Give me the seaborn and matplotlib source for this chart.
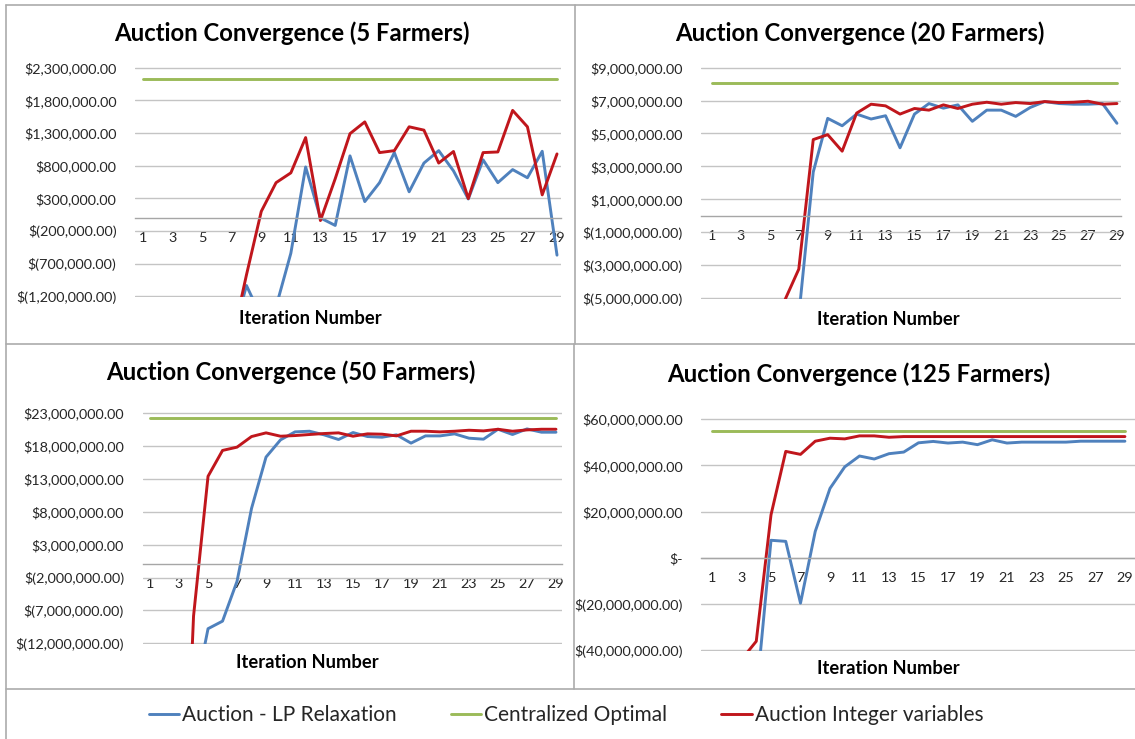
import numpy as np
import pandas as pd
import matplotlib
matplotlib.use('Agg')
import matplotlib.pyplot as plt
import seaborn as sns
from matplotlib.lines import Line2D
from matplotlib.ticker import FuncFormatter

# iteration numbers on the category axis
iterations = list(range(1, 30))
series_names = ['Auction - LP Relaxation', 'Centralized Optimal', 'Auction Integer variables']
colors = {'Auction - LP Relaxation': '#4F81BD',
          'Centralized Optimal': '#9BBB59',
          'Auction Integer variables': '#C0161C'}

titles = ['Auction Convergence (5 Farmers)', 'Auction Convergence (20 Farmers)',
          'Auction Convergence (50 Farmers)', 'Auction Convergence (125 Farmers)']
xlabel = 'Iteration Number'

# values in millions of dollars (early points lie below the axis floor)
lp_5 = [-4.2, -3.8, -3.4, -3.0, -2.6, -2.2, -1.87, -1.035, -1.52, -1.36, -0.54, 0.78, 0.0,
        -0.115, 0.95, 0.25, 0.54, 1.0, 0.40, 0.84, 1.03, 0.72, 0.29, 0.89, 0.54, 0.74,
        0.615, 1.02, -0.57]
int_5 = [-4.5, -4.0, -3.6, -3.1, -2.7, -2.3, -1.9, -0.87, 0.10, 0.54, 0.69, 1.23, -0.04,
         0.60, 1.29, 1.47, 1.0, 1.03, 1.395, 1.344, 0.84, 1.017, 0.297, 1.0, 1.01, 1.646,
         1.395, 0.353, 0.98]
opt_5 = 2.125

lp_20 = [-16, -14, -12, -10, -9, -7.5, -6.09, 2.66, 5.92, 5.47, 6.18, 5.88, 6.08, 4.13,
         6.18, 6.82, 6.54, 6.74, 5.74, 6.42, 6.42, 6.04, 6.58, 6.94, 6.82, 6.78, 6.78,
         6.82, 5.62]
int_20 = [-15, -13, -11, -9, -7, -5.2, -3.245, 4.63, 4.93, 3.925, 6.24, 6.78, 6.68, 6.18,
          6.52, 6.42, 6.74, 6.52, 6.78, 6.9, 6.78, 6.88, 6.82, 6.94, 6.88, 6.9, 6.96,
          6.78, 6.82]
opt_20 = 8.09

lp_50 = [-40, -35, -28, -20.8, -9.78, -8.63, -2.58, 8.5, 16.3, 18.92, 20.13, 20.23, 19.68,
         18.97, 20.03, 19.42, 19.32, 19.68, 18.42, 19.52, 19.52, 19.83, 19.17, 19.02,
         20.53, 19.73, 20.58, 20.08, 20.08]
int_50 = [-100, -80, -60, -7.87, 13.38, 17.31, 17.81, 19.42, 19.98, 19.47, 19.57, 19.73,
          19.88, 19.98, 19.47, 19.83, 19.78, 19.52, 20.23, 20.23, 20.13, 20.23, 20.38,
          20.28, 20.53, 20.23, 20.43, 20.53, 20.53]
opt_50 = 22.24

lp_125 = [-120, -100, -80, -60, 7.57, 7.1, -19.6, 11.4, 30.0, 39.3, 44.0, 42.7, 45.0, 45.7,
          49.7, 50.3, 49.6, 50.0, 48.9, 51.0, 49.6, 50.0, 50.0, 50.0, 50.0, 50.4, 50.4,
          50.4, 50.4]
int_125 = [-60, -50, -44, -36.1, 18.57, 46.0, 44.7, 50.4, 51.7, 51.4, 52.7, 52.7, 52.1,
           52.4, 52.4, 52.4, 52.4, 52.4, 52.4, 52.4, 52.4, 52.4, 52.4, 52.4, 52.4, 52.4,
           52.4, 52.4, 52.4]
opt_125 = 55.0

yticks_5 = np.arange(-1.2, 2.31, 0.5)
yticks_20 = np.arange(-5, 9.1, 2)
yticks_50 = np.arange(-12, 23.1, 5)
yticks_125 = np.arange(-40, 60.1, 20)

W, H = 1135, 739

sns.set_style('white')
plt.rcParams['font.family'] = ['Lato', 'DejaVu Sans']
text_color = '#262626'


def box(l, r, t, b):
    return [l / W, 1 - b / H, (r - l) / W, (b - t) / H]


def money(v, pos):
    if abs(v) < 1e-3:
        return '$-'
    s = '{:,.2f}'.format(abs(v))
    return '$({})'.format(s) if v < 0 else '${}'.format(s)


panels = [
    dict(title=titles[0], lp=lp_5, opt=opt_5, integ=int_5, yt=yticks_5,
         rect=box(135.3, 560.7, 67, 297), xlim=(0.48, 29.25), tpos=(292, 33), lpos=(310, 318)),
    dict(title=titles[1], lp=lp_20, opt=opt_20, integ=int_20, yt=yticks_20,
         rect=box(701.3, 1121.3, 67, 298.7), xlim=(0.26, 29.3), tpos=(860, 33), lpos=(888, 320)),
    dict(title=titles[2], lp=lp_50, opt=opt_50, integ=int_50, yt=yticks_50,
         rect=box(142.8, 561.5, 412.3, 644), xlim=(0.5, 29.38), tpos=(291, 372), lpos=(307, 663)),
    dict(title=titles[3], lp=lp_125, opt=opt_125, integ=int_125, yt=yticks_125,
         rect=box(701.4, 1136, 418.3, 651), xlim=(0.28, 29.75), tpos=(859, 374), lpos=(888, 669)),
]

fig = plt.figure(figsize=(W / 100, H / 100), dpi=100)

for p in panels:
    ax = fig.add_axes(p['rect'])
    n = len(iterations)
    df = pd.DataFrame({
        'Iteration': iterations * 3,
        'Value': np.concatenate([p['lp'], [p['opt']] * n, p['integ']]) * 1e6,
        'Series': np.repeat(series_names, n),
    })
    sns.lineplot(data=df, x='Iteration', y='Value', hue='Series', hue_order=series_names,
                 palette=colors, estimator=None, lw=2.1, legend=False, ax=ax)
    yt = p['yt'] * 1e6
    span = yt[-1] - yt[0]
    ax.set_ylim(yt[0] - span * 0.003, yt[-1] + span * 0.003)
    ax.set_yticks(yt)
    ax.yaxis.set_major_formatter(FuncFormatter(money))
    ax.set_xlim(*p['xlim'])
    ax.set_xticks(range(1, 30, 2))
    ax.grid(axis='y', color='#C4C4C4', lw=1)
    ax.grid(axis='x', visible=False)
    ax.set_axisbelow(True)
    for s in ['top', 'right', 'left']:
        ax.spines[s].set_visible(False)
    ax.spines['bottom'].set_position(('data', 0))
    ax.spines['bottom'].set_color('#A6A6A6')
    ax.spines['bottom'].set_linewidth(1)
    ax.tick_params(axis='x', length=0, pad=10, labelsize=10.4, colors=text_color)
    ax.tick_params(axis='y', length=0, pad=13.5, labelsize=10.4, colors=text_color)
    ax.set_xlabel('')
    ax.set_ylabel('')
    ax.patch.set_alpha(0)
    fig.text(p['tpos'][0] / W, 1 - p['tpos'][1] / H, p['title'], ha='center', va='center',
             fontsize=17.2, fontweight='bold', color='black')
    fig.text(p['lpos'][0] / W, 1 - p['lpos'][1] / H, xlabel, ha='center', va='center',
             fontsize=13.2, fontweight='bold', color='black')

# panel borders like the pasted Excel charts
borders = [((6, 5), (1135, 5)), ((6, 5), (6, 739)), ((575, 5), (575, 344)),
           ((573.5, 344), (573.5, 689)), ((6, 344), (1135, 344)), ((6, 689), (1135, 689))]
for (x0, y0), (x1, y1) in borders:
    fig.add_artist(Line2D([x0 / W, x1 / W], [1 - y0 / H, 1 - y1 / H],
                          transform=fig.transFigure, color='#ABABAB', lw=1.2))

handles = [Line2D([], [], color=colors[s], lw=2.1) for s in series_names]
fig.legend(handles, series_names, loc='center', bbox_to_anchor=(566 / W, 1 - 715 / H),
           ncol=3, frameon=False, fontsize=15, handlelength=1.45, handletextpad=0.15,
           columnspacing=2.6, labelcolor=text_color)

fig.savefig('out.png', dpi=100)
